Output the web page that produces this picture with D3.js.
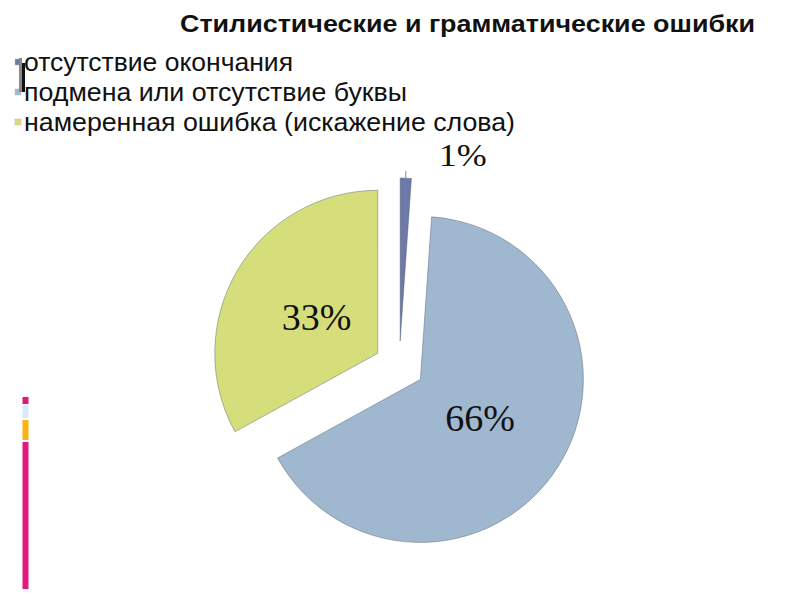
<!DOCTYPE html>
<html>
<head>
<meta charset="utf-8">
<script src="https://cdn.jsdelivr.net/npm/d3@7"></script>
<style>
  html, body { margin: 0; padding: 0; background: #fff; }
  svg { display: block; }
</style>
</head>
<body>
<svg id="chart" width="800" height="600"></svg>
<script>
// ---- data ----
const title = "Стилистические и грамматические ошибки";
const categories = ["отсутствие окончания", "подмена или отсутствие буквы", "намеренная ошибка (искажение слова)"];
const values = [1.1, 65.9, 33.0];
const labels = ["1%", "66%", "33%"];
const colors = ["#6d79a8", "#a0b8cf", "#d6de7b"];

const svg = d3.select("#chart");

// decorative slide bar at left
const decor = [
  {y0: 397, y1: 404, c: "#e2187c"},
  {y0: 405, y1: 418, c: "#d8ebf8"},
  {y0: 420, y1: 440, c: "#fbb40f"},
  {y0: 442, y1: 589, c: "#e2187c"}
];
svg.selectAll("rect.decor").data(decor).enter().append("rect")
  .attr("class", "decor")
  .attr("x", 22.5).attr("width", 6)
  .attr("y", d => d.y0).attr("height", d => d.y1 - d.y0)
  .attr("fill", d => d.c);

// title
svg.append("text")
  .attr("x", 180).attr("y", 32)
  .attr("font-family", "Liberation Sans, Arial, sans-serif")
  .attr("font-weight", "bold").attr("font-size", 24)
  .attr("textLength", 575).attr("lengthAdjust", "spacingAndGlyphs")
  .attr("fill", "#111")
  .text(title);

// legend
const legendY = d3.scalePoint().domain(categories).range([71, 131]);
const textWidths = [269, 383, 491];
const lg = svg.append("g");
categories.forEach((c, i) => {
  lg.append("rect")
    .attr("x", 15).attr("y", legendY(c) - 12)
    .attr("width", 6).attr("height", 6)
    .attr("fill", colors[i]).attr("stroke", "#bbb").attr("stroke-width", 0.5);
  lg.append("text")
    .attr("x", 24).attr("y", legendY(c))
    .attr("font-family", "Liberation Sans, Arial, sans-serif")
    .attr("font-size", 26)
    .attr("textLength", textWidths[i]).attr("lengthAdjust", "spacingAndGlyphs")
    .attr("fill", "#111")
    .text(c);
});
// cursor artefact seen in the reference
lg.append("rect").attr("x", 19).attr("y", 58).attr("width", 3).attr("height", 34).attr("fill", "#888");
lg.append("rect").attr("x", 22).attr("y", 63).attr("width", 3).attr("height", 29).attr("fill", "#111");

// pie
const cx = 399.3, cy = 366, R = 163, explode = 25;
const pie = d3.pie().sort(null).startAngle(0).endAngle(2 * Math.PI)(values);
const arc = d3.arc().innerRadius(0).outerRadius(R);
const g = svg.append("g").attr("transform", `translate(${cx},${cy})`);

function offset(d, r) {
  const a = (d.startAngle + d.endAngle) / 2;
  return [Math.sin(a) * r, -Math.cos(a) * r];
}

const slices = g.selectAll("g.slice").data(pie).enter().append("g")
  .attr("class", "slice")
  .attr("transform", d => { const o = offset(d, explode); return `translate(${o[0]},${o[1]})`; });

slices.append("path")
  .attr("d", arc)
  .attr("fill", (d, i) => colors[i])
  .attr("stroke", "rgba(80,90,100,0.55)")
  .attr("stroke-width", 0.8);

// inside labels for big slices
slices.filter((d, i) => i > 0).append("text")
  .attr("transform", d => { const o = offset(d, 71); return `translate(${o[0]},${o[1]})`; })
  .attr("text-anchor", "middle")
  .attr("dy", "0.35em")
  .attr("font-family", "Liberation Serif, Times New Roman, serif")
  .attr("font-size", 38)
  .attr("fill", "#111")
  .text((d, i) => labels[i + 1]);

// outside label for the tiny slice with short leader
const small = slices.filter((d, i) => i === 0);
small.each(function(d) {
  const a = (d.startAngle + d.endAngle) / 2;
  const px = Math.sin(a) * R, py = -Math.cos(a) * R;
  const s = d3.select(this);
  s.append("line")
    .attr("x1", px).attr("y1", py)
    .attr("x2", px).attr("y2", py - 7)
    .attr("stroke", "#888").attr("stroke-width", 1);
  s.append("text")
    .attr("x", px + 57).attr("y", py - 12)
    .attr("text-anchor", "middle")
    .attr("font-family", "Liberation Serif, Times New Roman, serif")
    .attr("font-size", 31)
    .attr("textLength", 48).attr("lengthAdjust", "spacingAndGlyphs")
    .attr("fill", "#111")
    .text(labels[0]);
});
</script>
</body>
</html>
